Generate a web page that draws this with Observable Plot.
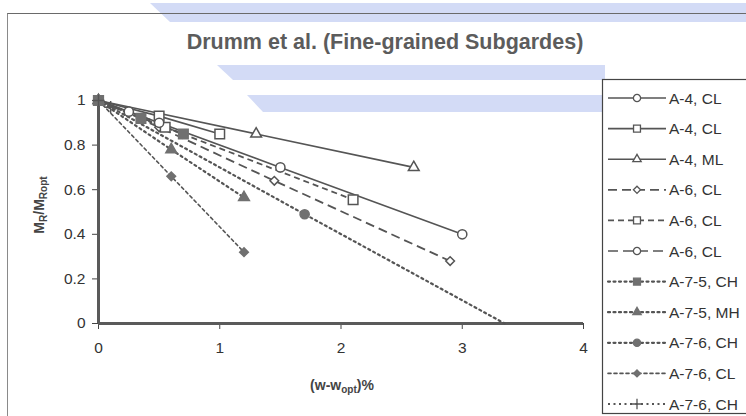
<!DOCTYPE html>
<html><head><meta charset="utf-8">
<script src="https://cdn.jsdelivr.net/npm/d3@7"></script>
<script src="https://cdn.jsdelivr.net/npm/@observablehq/plot@0.6"></script>
<style>
body{margin:0;background:#fff;}
#wrap{position:relative;width:746px;height:416px;overflow:hidden;font-family:"Liberation Sans",Arial,sans-serif;background:#fff;}
.band{position:absolute;background:#d3dbf6;}
#frame{position:absolute;left:7px;top:13px;width:800px;height:500px;border-left:1px solid #8a8a8a;border-top:1px solid #6a6a6a;}
#title{position:absolute;left:155px;top:30px;width:460px;text-align:center;font-family:"Liberation Sans",Arial,sans-serif;font-weight:bold;font-size:21.5px;color:#5c5c5c;white-space:nowrap;}
#ylab{position:absolute;left:40px;top:205px;transform:translate(-50%,-50%) rotate(-90deg);font-weight:bold;font-size:14px;color:#444;white-space:nowrap;}
#xlab{position:absolute;left:342px;top:386px;transform:translate(-50%,-50%);font-weight:bold;font-size:14px;color:#444;white-space:nowrap;}
sub{font-size:10px;vertical-align:-3px;}
#chart{position:absolute;left:0;top:0;}
#legend{position:absolute;left:602px;top:79px;}
</style></head><body><div id="wrap">
<div class="band" style="left:0;top:3px;width:746px;height:19px;clip-path:polygon(150px 0,746px 0,746px 19px,170px 19px);"></div>
<div class="band" style="left:0;top:65px;width:746px;height:15px;clip-path:polygon(217px 0,605px 0,605px 15px,233px 15px);"></div>
<div class="band" style="left:0;top:95px;width:746px;height:17px;clip-path:polygon(247px 0,610px 0,610px 17px,263px 17px);"></div>
<div id="frame"></div>
<div id="title">Drumm et al. (Fine-grained Subgardes)</div>
<div id="chart"></div>
<div id="ylab">M<sub>R</sub>/M<sub>Ropt</sub></div>
<div id="xlab">(w-w<sub>opt</sub>)%</div>
<div id="legend"></div>
</div>
<script>
// ---- data ----
const seriesNames = ["A-4, CL","A-4, CL","A-4, ML","A-6, CL","A-6, CL","A-6, CL","A-7-5, CH","A-7-5, MH","A-7-6, CH","A-7-6, CL","A-7-6, CH"];
const s1x = [0, 1.5, 3.0],        s1y = [1, 0.70, 0.40];
const s2x = [0, 0.5, 1.0],        s2y = [1, 0.93, 0.85];
const s3x = [0, 1.3, 2.6],        s3y = [1, 0.85, 0.70];
const s4x = [0, 0.5, 1.45, 2.9],  s4y = [1, 0.88, 0.64, 0.28];
const s5x = [0, 0.55, 2.1],       s5y = [1, 0.88, 0.555];
const s6x = [0, 0.25, 0.5],       s6y = [1, 0.95, 0.90];
const s7x = [0, 0.35, 0.7],       s7y = [1, 0.92, 0.85];
const s8x = [0, 0.6, 1.2],        s8y = [1, 0.78, 0.565];
const s9x = [0, 1.7, 3.35],       s9y = [1, 0.49, 0];
const s10x = [0, 0.6, 1.2],       s10y = [1, 0.66, 0.32];
const s11x = [0, 0.1],            s11y = [1, 0.97];
const xTicks = [0, 1, 2, 3, 4];
const yTicks = [0, 0.2, 0.4, 0.6, 0.8, 1];

// ---- styles ----
const seriesX = [s1x,s2x,s3x,s4x,s5x,s6x,s7x,s8x,s9x,s10x,s11x];
const seriesY = [s1y,s2y,s3y,s4y,s5y,s6y,s7y,s8y,s9y,s10y,s11y];
const symbols = ["circle","square","triangle","diamond2","square","circle","square","triangle","circle","diamond2","plus"];
const filled  = [false,false,false,false,false,false,true,true,true,true,false];
const dashes  = ["none","none","none","9,5","6,4","10,5","2,3.5","2,3.5","2,3.5","3,3","2,3.5"];
const widths  = [1.6,1.6,1.6,1.8,1.8,1.6,2.2,2.2,2.2,1.6,2];
const plotR   = {circle: 4.6, square: 5.4, triangle: 4.0, diamond2: 3.9, plus: 4};
const legendR = {circle: 3.6, square: 3.9, triangle: 3.1, diamond2: 3.2, plus: 3.5};
const lineColor = "#555";
const fillDark = "#707070";

const table = [];
seriesX.forEach((xs, i) => xs.forEach((x, j) => table.push({s: i, x, y: seriesY[i][j]})));

const marks = [
  Plot.ruleY([0], {stroke: "#5a5a5a", strokeWidth: 3}),
  Plot.ruleX([0], {stroke: "#5a5a5a", strokeWidth: 3})
];
seriesNames.forEach((name, i) => {
  const d = table.filter(r => r.s === i);
  marks.push(Plot.line(d, {x: "x", y: "y", stroke: lineColor, strokeWidth: widths[i], strokeDasharray: dashes[i], strokeLinecap: filled[i] ? "round" : "butt"}));
});
seriesNames.forEach((name, i) => {
  const d = table.filter(r => r.s === i && r.y > 0);
  marks.push(Plot.dot(d, {x: "x", y: "y", symbol: () => symbols[i], r: plotR[symbols[i]],
    fill: filled[i] ? fillDark : "white", stroke: filled[i] ? fillDark : lineColor, strokeWidth: 1.5}));
});

const chart = Plot.plot({
  width: 746, height: 416,
  marginLeft: 98, marginRight: 163, marginTop: 100, marginBottom: 93,
  style: {background: "transparent", overflow: "visible", fontFamily: "'Liberation Sans', Arial, sans-serif", fontSize: "15px", color: "#444"},
  x: {domain: [0, 4], ticks: xTicks, tickSize: 6, tickPadding: 12, label: null, tickFormat: d => String(d)},
  y: {domain: [0, 1], ticks: yTicks, tickSize: 6, tickPadding: 7, label: null, tickFormat: d => String(d)},
  symbol: {type: "identity"},
  marks
});
chart.querySelectorAll("text").forEach(t => { t.setAttribute("fill", "#333"); t.style.fontSize = "15.5px"; });
document.getElementById("chart").appendChild(chart);

// ---- legend ----
const rowH = 30.6;
const lg = d3.select("#legend").append("svg").attr("width", 150).attr("height", 340).style("overflow", "visible");
lg.append("rect").attr("x", 0.5).attr("y", 0.5).attr("width", 200).attr("height", 334)
  .attr("fill", "white").attr("stroke", "#444").attr("stroke-width", 1.2);
const symMap = {circle: d3.symbolCircle, square: d3.symbolSquare, triangle: d3.symbolTriangle, diamond2: d3.symbolDiamond2, plus: d3.symbolPlus};
seriesNames.forEach((name, i) => {
  const y = 19 + i * rowH;
  const g = lg.append("g").attr("transform", `translate(0,${y})`);
  g.append("line").attr("x1", 6).attr("x2", 64).attr("y1", 0).attr("y2", 0)
    .attr("stroke", lineColor).attr("stroke-width", widths[i]).attr("stroke-dasharray", dashes[i])
    .attr("stroke-linecap", filled[i] ? "round" : "butt");
  const r = legendR[symbols[i]];
  g.append("path").attr("transform", "translate(35,0)")
    .attr("d", d3.symbol(symMap[symbols[i]], Math.PI * r * r)())
    .attr("fill", filled[i] ? fillDark : "white").attr("stroke", filled[i] ? fillDark : lineColor).attr("stroke-width", 1.3);
  g.append("text").attr("x", 67).attr("y", 0).attr("dy", "0.36em")
    .attr("font-size", 15.5).attr("fill", "#333").attr("font-family", "'Liberation Sans', Arial, sans-serif").text(name);
});
</script>
</body></html>
